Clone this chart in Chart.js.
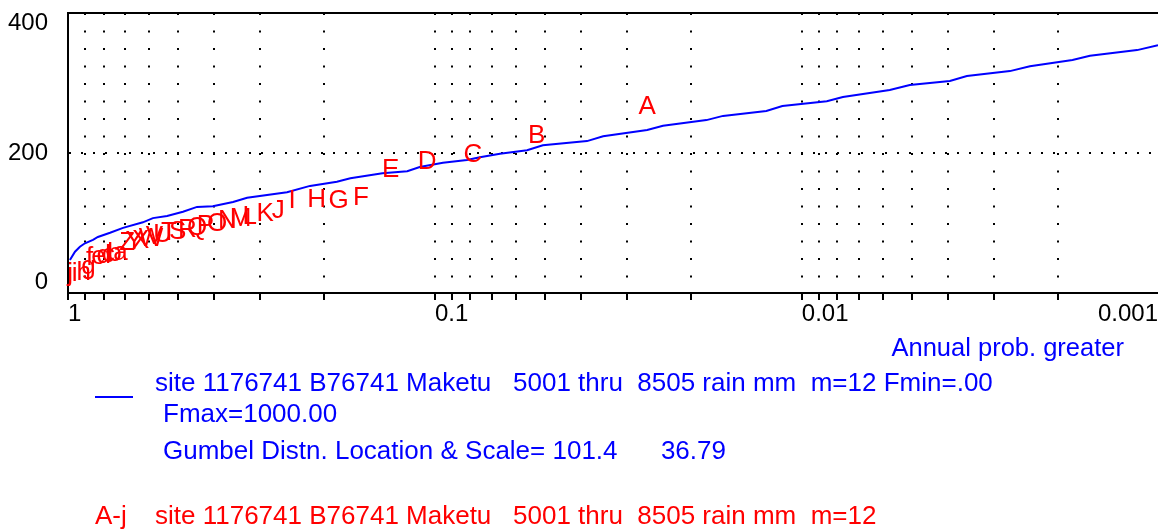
<!DOCTYPE html>
<html>
<head>
<meta charset="utf-8">
<script src="https://cdn.jsdelivr.net/npm/chart.js@4.4.1/dist/chart.umd.min.js"></script>
<style>
	body { margin: 0; background: #fff; overflow: hidden; }
	.wrap { position: relative; width: 1158px; height: 529px; }
	.txt { position: absolute; white-space: pre; font: 26px "Liberation Sans", Arial, sans-serif; line-height: 30px; }
	.blue { color: #0000ff; }
	.red { color: #ff0000; }
	.key { position: absolute; height: 0; border-top: 2px solid #0000ff; }
</style>
</head>
<body>
<div class="wrap">
	<canvas id="gumbelChart"></canvas>
	<div class="txt blue" style="right:34px;top:332px;font-size:25.5px">Annual prob. greater</div>
	<div class="key" style="left:95px;top:396px;width:38px"></div>
	<div class="txt blue" style="left:155px;top:367px">site 1176741 B76741 Maketu   5001 thru  8505 rain mm  m=12 Fmin=.00</div>
	<div class="txt blue" style="left:163px;top:398px">Fmax=1000.00</div>
	<div class="txt blue" style="left:163px;top:435px">Gumbel Distn. Location &amp; Scale= 101.4      36.79</div>
	<div class="txt red" style="left:95px;top:500px">A-j</div>
	<div class="txt red" style="left:155px;top:500px">site 1176741 B76741 Maketu   5001 thru  8505 rain mm  m=12</div>
</div>
<script>
/*
 * data
 */
// fitted curve (annual prob. greater -> rain mm)
const fitProb = [0.988, 0.957, 0.928, 0.899, 0.855, 0.829, 0.768, 0.708, 0.625, 0.587,
	0.537, 0.486, 0.445, 0.403, 0.355, 0.325, 0.253, 0.219, 0.185, 0.170,
	0.139, 0.119, 0.110, 0.0951, 0.0818, 0.0754, 0.0665, 0.0561, 0.0508, 0.0385,
	0.0348, 0.0264, 0.0239, 0.0182, 0.0164, 0.0125, 0.0113, 0.00855, 0.00773, 0.00576,
	0.00508, 0.00395, 0.00355, 0.00271, 0.00239, 0.00183, 0.00164, 0.00122, 0.00107];
const fitRain = [47, 59, 66, 71, 76, 80, 86, 93, 101, 107,
	110, 116, 123, 124, 130, 136, 144, 153, 159, 164,
	171, 174, 180, 186, 190, 194, 199, 204, 211, 217,
	224, 233, 239, 247, 253, 260, 267, 274, 280, 290,
	297, 303, 310, 317, 324, 333, 339, 347, 354];

// observed annual maxima, plotted as letters A..j
const obsLabel = ['A', 'B', 'C', 'D', 'E', 'F', 'G', 'H', 'I', 'J', 'K', 'L', 'M',
	'N', 'O', 'P', 'Q', 'R', 'S', 'T', 'U', 'V', 'W', 'X', 'Y', 'Z',
	'a', 'b', 'c', 'd', 'e', 'f', 'g', 'h', 'i', 'j'];
const obsProb = [0.027, 0.054, 0.081, 0.108, 0.135, 0.162, 0.189, 0.216, 0.243, 0.270,
	0.297, 0.324, 0.351, 0.378, 0.405, 0.432, 0.459, 0.486, 0.514, 0.541,
	0.568, 0.595, 0.622, 0.649, 0.676, 0.703, 0.730, 0.757, 0.784, 0.811,
	0.838, 0.865, 0.892, 0.919, 0.946, 0.973];
const obsRain = [266, 224, 197, 187, 176, 136, 131, 133, 131, 117,
	113, 109, 106, 103, 99, 96, 93, 90, 87, 86,
	83, 80, 77, 74, 73, 71, 57, 56, 54, 53,
	51, 50, 37, 29, 27, 27];

// axes
const xMin = 0.00107;
const xMax = 1;
const xTickValues = [1, 0.9, 0.8, 0.7, 0.6, 0.5, 0.4, 0.3, 0.2,
	0.1, 0.09, 0.08, 0.07, 0.06, 0.05, 0.04, 0.03, 0.02,
	0.01, 0.009, 0.008, 0.007, 0.006, 0.005, 0.004, 0.003, 0.002];
const xMajor = [1, 0.1, 0.01];
const xMajorLabel = ['1', '0.1', '0.01'];
const xEndLabel = '0.001';
const yTickValues = [0, 200, 400];

const FONT = '"Liberation Sans", Arial, sans-serif';

/*
 * plugins
 */
// red letters at the observed points
const letterPlugin = {
	id: 'letters',
	afterDatasetsDraw(chart) {
		const ctx = chart.ctx;
		const meta = chart.getDatasetMeta(1);
		ctx.save();
		ctx.font = '26px ' + FONT;
		ctx.fillStyle = '#ff0000';
		ctx.textAlign = 'left';
		ctx.textBaseline = 'middle';
		meta.data.forEach(function(pt, i) {
			ctx.fillText(obsLabel[i], pt.x - 5, pt.y);
		});
		ctx.restore();
	}
};

// last x label sits flush right at the end of the axis
const endLabelPlugin = {
	id: 'endLabel',
	afterDraw(chart) {
		const ctx = chart.ctx;
		const sx = chart.scales.x;
		ctx.save();
		ctx.font = '24px ' + FONT;
		ctx.fillStyle = '#000';
		ctx.textAlign = 'right';
		ctx.textBaseline = 'middle';
		ctx.fillText(xEndLabel, sx.right, sx.top + 7 + 24 * 1.2 / 2);
		ctx.restore();
	}
};

/*
 * chart
 */
new Chart(document.getElementById('gumbelChart'), {
	type: 'line',
	data: {
		datasets: [{
			label: 'fit',
			data: fitProb.map((p, i) => ({ x: p, y: fitRain[i] })),
			borderColor: '#0000ff',
			borderWidth: 2,
			pointRadius: 0,
			fill: false,
			tension: 0
		}, {
			label: 'obs',
			data: obsProb.map((p, i) => ({ x: p, y: obsRain[i] })),
			showLine: false,
			pointRadius: 0
		}]
	},
	options: {
		responsive: true,
		maintainAspectRatio: false,
		animation: false,
		layout: { padding: { top: 13, right: 0, bottom: 196, left: 0 } },
		plugins: {
			legend: { display: false },
			tooltip: { enabled: false }
		},
		scales: {
			x: {
				type: 'logarithmic',
				position: 'bottom',
				reverse: true,
				min: xMin,
				max: xMax,
				afterBuildTicks: function(scale) {
					scale.ticks = xTickValues.map(v => ({ value: v }));
				},
				afterFit: function(scale) {
					scale.height = 40;
					scale.paddingLeft = 0;
					scale.paddingRight = 0;
				},
				grid: {
					color: '#000',
					lineWidth: 2,
					drawTicks: true,
					tickLength: 7,
					tickWidth: 2,
					tickColor: '#000'
				},
				border: { display: true, color: '#000', width: 2, dash: [2, 15.5] },
				ticks: {
					autoSkip: false,
					maxRotation: 0,
					align: 'start',
					padding: 0,
					color: '#000',
					font: { family: FONT, size: 24 },
					callback: function(value) {
						const k = xMajor.findIndex(m => Math.abs(m - value) < m * 1e-6);
						return k >= 0 ? xMajorLabel[k] : '';
					}
				}
			},
			xTop: {
				type: 'linear',
				position: 'top',
				afterFit: function(scale) {
					scale.height = 0;
				},
				grid: { display: false, drawTicks: false },
				border: { display: true, color: '#000', width: 2 },
				ticks: { display: false }
			},
			y: {
				type: 'linear',
				min: 0,
				max: 400,
				afterBuildTicks: function(scale) {
					scale.ticks = yTickValues.map(v => ({ value: v }));
				},
				afterFit: function(scale) {
					scale.width = 68;
					scale.paddingTop = 0;
					scale.paddingBottom = 0;
				},
				grid: {
					color: c => (c.tick && c.tick.value === 200) ? '#000' : 'rgba(0,0,0,0)',
					lineWidth: 2,
					drawTicks: false
				},
				border: { display: true, color: '#000', width: 2, dash: [2, 10] },
				ticks: {
					padding: 20,
					color: '#000',
					font: { family: FONT, size: 24, lineHeight: 0.9 },
					callback: function(value) {
						// top and bottom labels are pulled inside the plot box
						if (value === 400) return ['', '400'];
						if (value === 0) return ['0', ''];
						return String(value);
					}
				}
			}
		}
	},
	plugins: [letterPlugin, endLabelPlugin]
});
</script>
</body>
</html>
